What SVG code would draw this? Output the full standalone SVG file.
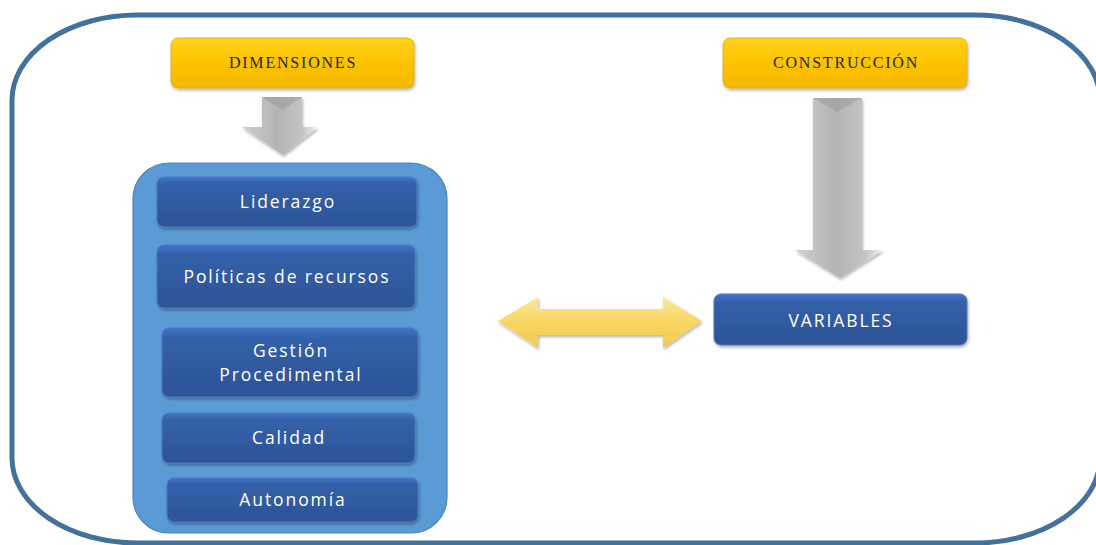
<svg xmlns="http://www.w3.org/2000/svg" width="1096" height="545" viewBox="0 0 1096 545">
<style>
.frame{fill:#ffffff;stroke:#41719c;stroke-width:5}
.ybox{fill:url(#gy);stroke:#e3a800;stroke-width:0.8;filter:url(#sh)}
.ytxt{font-family:"Liberation Serif",serif;font-size:16px;fill:#262626;text-anchor:middle;letter-spacing:1.8px}
.bbox{fill:url(#gb);stroke:#4a78c0;stroke-width:1;filter:url(#sh)}
.btxt{font-family:"Open Sans","Liberation Sans",sans-serif;font-size:17.5px;fill:#ffffff;text-anchor:middle;letter-spacing:1.9px}
.cont{fill:#5b9bd5;stroke:#4a84bd;stroke-width:1.2}
.garrow{fill:url(#gg);filter:url(#sh)}
.bevel{fill:#9a9a9a;opacity:0.55}
.yarrow{fill:url(#gya);filter:url(#sh)}
</style>
<defs>
<linearGradient id="gy" x1="0" y1="0" x2="0" y2="1">
<stop offset="0" stop-color="#ffd21a"/><stop offset="0.5" stop-color="#fcc300"/><stop offset="1" stop-color="#f5b800"/>
</linearGradient>
<linearGradient id="gb" x1="0" y1="0" x2="0" y2="1">
<stop offset="0" stop-color="#4273c4"/><stop offset="0.15" stop-color="#3360a8"/><stop offset="1" stop-color="#2d5396"/>
</linearGradient>
<linearGradient id="gg" x1="0" y1="0" x2="1" y2="0">
<stop offset="0" stop-color="#d0d0d0"/><stop offset="0.45" stop-color="#b4b4b4"/><stop offset="0.8" stop-color="#c4c4c4"/><stop offset="1" stop-color="#f4f4f4"/>
</linearGradient>
<linearGradient id="gya" x1="0" y1="0" x2="0" y2="1">
<stop offset="0" stop-color="#fde899"/><stop offset="0.5" stop-color="#f8d662"/><stop offset="1" stop-color="#f3cb50"/>
</linearGradient>
<filter id="sh" x="-10%" y="-20%" width="120%" height="150%">
<feDropShadow dx="1" dy="2" stdDeviation="1.5" flood-color="#000" flood-opacity="0.3"/>
</filter>
</defs>
<rect class="frame" x="12" y="15" width="1088" height="528" rx="125" ry="85"/>
<g id="dimensiones">
<rect class="ybox" x="171" y="38" width="243" height="50" rx="7"/>
<text class="ytxt" x="293" y="68">DIMENSIONES</text>
</g>
<g id="construccion">
<rect class="ybox" x="723" y="38" width="244" height="50" rx="7"/>
<text class="ytxt" x="846" y="68">CONSTRUCCIÓN</text>
</g>
<g id="contenedor">
<rect class="cont" x="133" y="163" width="314" height="370" rx="36"/>
</g>
<g id="liderazgo">
<rect class="bbox" x="157" y="177" width="260" height="50" rx="7"/>
<text class="btxt" x="288" y="208">Liderazgo</text>
</g>
<g id="politicas">
<rect class="bbox" x="157" y="245" width="258" height="63" rx="7"/>
<text class="btxt" x="287" y="283">Políticas de recursos</text>
</g>
<g id="gestion">
<rect class="bbox" x="162" y="328" width="256" height="69" rx="7"/>
<text class="btxt" x="291" y="357">Gestión</text>
<text class="btxt" x="291" y="381">Procedimental</text>
</g>
<g id="calidad">
<rect class="bbox" x="162" y="413" width="253" height="50" rx="7"/>
<text class="btxt" x="289" y="444">Calidad</text>
</g>
<g id="autonomia">
<rect class="bbox" x="167" y="478" width="251" height="44" rx="7"/>
<text class="btxt" x="293" y="506">Autonomía</text>
</g>
<g id="variables">
<rect class="bbox" x="714" y="294" width="253" height="51" rx="7"/>
<text class="btxt" x="841" y="327">VARIABLES</text>
</g>
<g id="connectors">
<path class="garrow" d="M262,97 L302,97 L302,127 L318,127 L283,155 L242,127 L262,127 Z"/>
<path class="bevel" d="M262,97 L302,97 L282,110 Z"/>
<path class="garrow" d="M813,98 L862,98 L862,250 L883,250 L840,278 L795,250 L813,250 Z"/>
<path class="bevel" d="M813,98 L862,98 L837,112 Z"/>
<path class="yarrow" d="M498,321 L538,297 L538,309 L663,309 L663,297 L702,321 L663,348 L663,335 L538,335 L538,348 Z"/>
</g>
</svg>
